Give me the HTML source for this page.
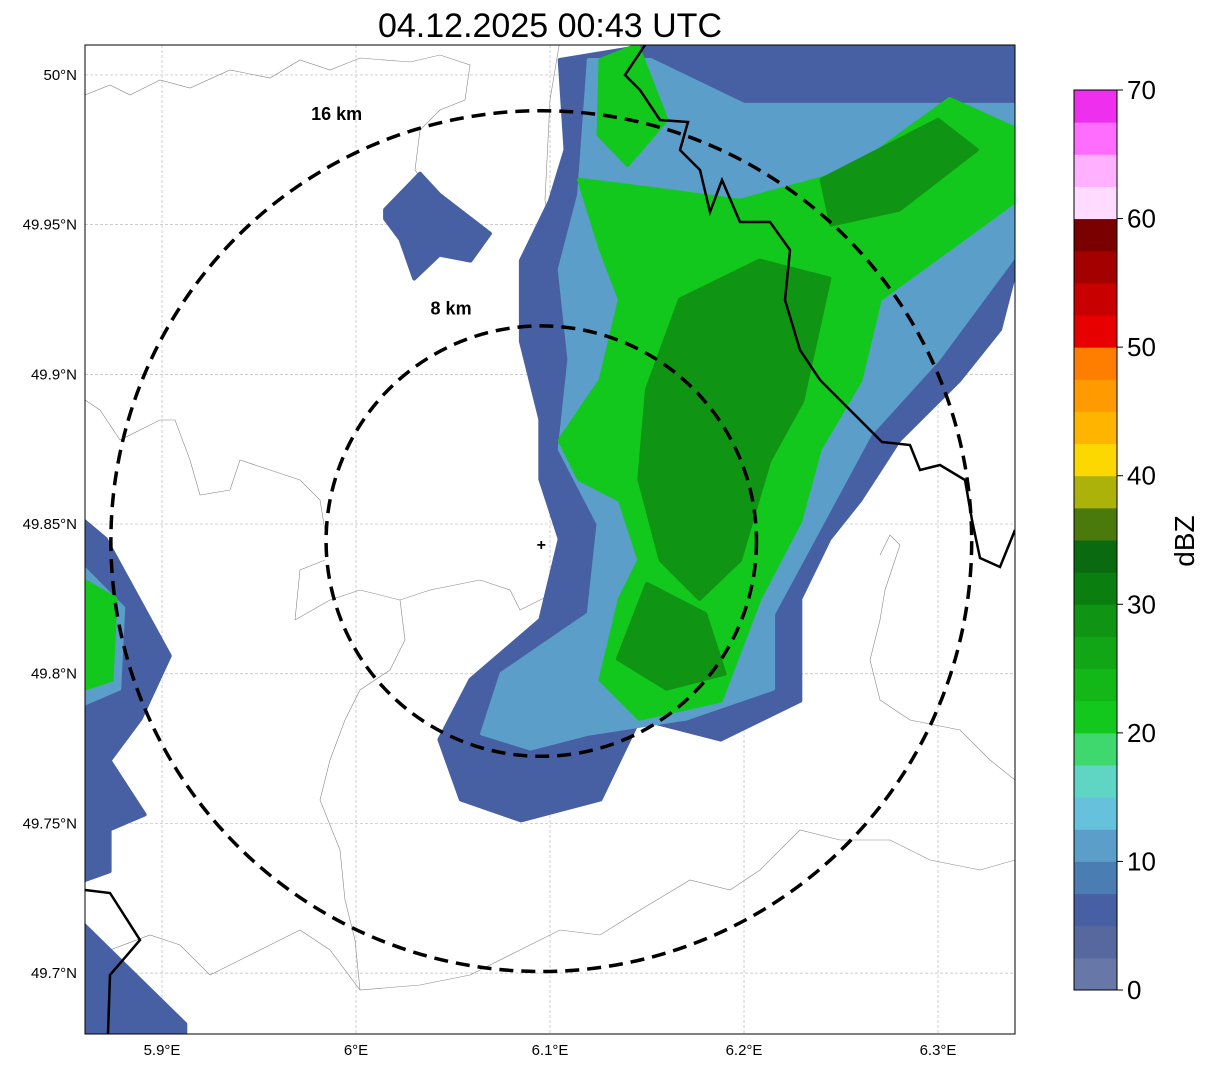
<!DOCTYPE html>
<html><head><meta charset="utf-8"><style>
body{margin:0;background:#fff;font-family:"Liberation Sans","DejaVu Sans",sans-serif}
svg{display:block}
</style></head><body>
<svg id="chart" width="1207" height="1069" viewBox="0 0 1207 1069" xmlns="http://www.w3.org/2000/svg">
<text x="550" y="37" font-size="34" text-anchor="middle" font-family="Liberation Sans, sans-serif">04.12.2025 00:43 UTC</text>
<defs><clipPath id="mapclip"><rect x="85" y="45" width="930" height="989"/></clipPath></defs>
<g id="map" clip-path="url(#mapclip)"></g>
<rect x="85" y="45" width="930" height="989" fill="none" stroke="#000" stroke-width="1"/>
<g id="axes"></g>
<g id="cbar"></g>
</svg>
<script>
const NS="http://www.w3.org/2000/svg";
const lonTicks=[5.9,6.0,6.1,6.2,6.3];
const lonLabels=["5.9°E","6°E","6.1°E","6.2°E","6.3°E"];
const latTicks=[50.0,49.95,49.9,49.85,49.8,49.75,49.7];
const latLabels=["50°N","49.95°N","49.9°N","49.85°N","49.8°N","49.75°N","49.7°N"];
const cbarColors=["#6677a8","#56689e","#4660a3","#4a7db2","#5a9ec9","#66c2dc","#5fd6c4","#3ed86f","#12c81d","#12b818","#10a615","#0f9513","#0a7f10","#0a6a10","#4a7a0b","#adb20a","#fcd700","#ffb400","#ff9a00","#ff7e00","#e60000","#c80000","#a40000","#7a0000","#ffdcff","#ffb0ff","#ff6dff","#ee30ee"];
const cbarTicks=[0,10,20,30,40,50,60,70];
const radarLon=6.0955, radarLat=49.8443;
const ringKm=[8,16];
const ringLabelLat=[49.920,49.985];
const ringLabelLon=[6.049,5.990];
// echo regions: [dBZ, polygon of [lon,lat]]
const echoDbz=[5,5,5,5,11,11,22,22,22,28,28,28];
const echoPolys=[
[[6.105,50.005],[6.152,50.010],[6.340,50.010],[6.340,49.935],[6.332,49.915],[6.311,49.898],[6.280,49.878],[6.260,49.858],[6.244,49.845],[6.229,49.825],[6.229,49.791],[6.188,49.778],[6.146,49.785],[6.126,49.758],[6.085,49.751],[6.054,49.758],[6.043,49.778],[6.059,49.798],[6.095,49.818],[6.105,49.845],[6.095,49.865],[6.095,49.885],[6.085,49.911],[6.085,49.938],[6.100,49.958],[6.108,49.975]],
[[6.015,49.955],[6.033,49.967],[6.043,49.960],[6.069,49.947],[6.059,49.938],[6.043,49.940],[6.030,49.932],[6.023,49.945],[6.015,49.952]],
[[5.860,49.851],[5.871,49.845],[5.904,49.806],[5.889,49.785],[5.873,49.771],[5.891,49.753],[5.873,49.748],[5.873,49.734],[5.860,49.731]],
[[5.860,49.716],[5.912,49.683],[5.912,49.680],[5.860,49.680]],
[[6.120,50.005],[6.152,50.005],[6.200,49.990],[6.340,49.990],[6.340,49.940],[6.300,49.905],[6.265,49.880],[6.240,49.850],[6.215,49.820],[6.215,49.795],[6.170,49.785],[6.120,49.780],[6.090,49.775],[6.065,49.780],[6.075,49.800],[6.120,49.820],[6.125,49.850],[6.105,49.875],[6.110,49.905],[6.105,49.935],[6.115,49.960]],
[[5.860,49.835],[5.880,49.822],[5.878,49.795],[5.860,49.790]],
[[6.115,49.965],[6.152,49.962],[6.198,49.958],[6.255,49.968],[6.306,49.992],[6.340,49.982],[6.340,49.958],[6.306,49.942],[6.270,49.925],[6.260,49.898],[6.239,49.875],[6.229,49.851],[6.208,49.825],[6.188,49.791],[6.146,49.785],[6.126,49.798],[6.136,49.825],[6.146,49.838],[6.136,49.858],[6.115,49.865],[6.105,49.878],[6.126,49.898],[6.136,49.925],[6.126,49.942]],
[[6.126,50.005],[6.145,50.010],[6.160,49.985],[6.140,49.970],[6.125,49.980]],
[[5.860,49.831],[5.876,49.825],[5.874,49.798],[5.860,49.795]],
[[6.167,49.925],[6.208,49.938],[6.244,49.932],[6.230,49.891],[6.213,49.871],[6.198,49.838],[6.177,49.825],[6.157,49.838],[6.146,49.865],[6.150,49.895]],
[[6.150,49.830],[6.180,49.820],[6.190,49.800],[6.160,49.795],[6.135,49.805]],
[[6.240,49.965],[6.300,49.985],[6.320,49.975],[6.280,49.955],[6.245,49.950]]
];
const X=lon=>85+(lon-5.8603)*1940;
const Y=lat=>45+(50.0100-lat)*2994;
function colorFor(d){return cbarColors[Math.max(0,Math.min(27,Math.floor(d/2.5)))];}
function mk(tag,attrs,parent){const e=document.createElementNS(NS,tag);for(const k in attrs)e.setAttribute(k,attrs[k]);parent.appendChild(e);return e;}
const map=document.getElementById('map');
const axes=document.getElementById('axes');
const cbar=document.getElementById('cbar');
lonTicks.forEach((t,i)=>{
  const l=mk('line',{x1:X(t),x2:X(t),y1:45,y2:1034,stroke:'#bbb','stroke-width':0.7,'stroke-dasharray':'3,2'},map);
  
  
  const tx=mk('text',{x:X(t),y:1055,'font-size':15,'text-anchor':'middle'},axes);
  tx.textContent=lonLabels[i];
  
  
});
latTicks.forEach((t,i)=>{
  const l=mk('line',{x1:85,x2:1015,y1:Y(t),y2:Y(t),stroke:'#bbb','stroke-width':0.7,'stroke-dasharray':'3,2'},map);
  
  
  const tx=mk('text',{x:77,y:Y(t)+5,'font-size':15,'text-anchor':'end'},axes);
  tx.textContent=latLabels[i];
  
  
});
const grayPaths=["M85,95 L110,85 L130,95 L160,80 L190,88 L230,70 L270,78 L300,60 L330,70 L360,58 L410,62 L440,55 L470,65 L465,100 L440,110 L420,130 L415,170 L430,190",
"M85,400 L100,410 L120,440 L160,420 L175,420 L190,460 L200,495 L230,490 L240,460 L270,470 L300,480 L320,500 L325,530",
"M325,560 L300,570 L295,620 L330,600 L360,590 L400,600 L430,590 L480,580 L510,590 L520,610 L540,600 L560,590 L600,590 L610,620",
"M400,600 L405,640 L390,670 L360,690 L345,720 L330,760 L320,800 L340,850 L345,900 L355,940 L360,990",
"M85,960 L110,950 L150,935 L180,945 L210,975 L240,960 L270,945 L300,930 L330,950 L360,990 L420,985 L470,975 L520,950 L560,930 L600,935 L640,910 L690,880 L730,890 L760,870 L800,830 L840,840 L890,840 L930,860 L980,870 L1015,860",
"M880,555 L890,535 L900,545 L885,590 L880,620 L870,660 L880,700 L910,720 L960,730 L990,760 L1015,780",
"M560,40 L550,100 L545,200 L555,260 L590,270 L640,260",
"M720,600 L740,640 L760,600 L770,560 L790,540"];
grayPaths.forEach(d=>{
  const p=mk('path',{d:d,fill:'none',stroke:'#888','stroke-width':0.6},map);
  
  
});
echoPolys.forEach((poly,i)=>{
  const c=colorFor(echoDbz[i]);
  const p=mk('polygon',{points:poly.map(q=>X(q[0]).toFixed(1)+','+Y(q[1]).toFixed(1)).join(' '),fill:c,stroke:c,'stroke-width':4,'stroke-linejoin':'round'},map);
  
  
});
const borders=["M645,45 L625,75 L640,90 L660,120 L688,122 L680,150 L700,170 L710,212 L722,180 L740,222 L770,222 L790,250 L785,300 L800,350 L820,380 L860,420 L882,442 L910,445 L920,470 L940,465 L965,480 L972,520 L980,558 L1000,567 L1015,530",
"M85,890 L110,893 L140,940 L110,975 L108,1034"];
borders.forEach(d=>{
  const p=mk('path',{d:d,fill:'none',stroke:'#000','stroke-width':2.5},map);
  
  
});
ringKm.forEach((k,i)=>{
  const r=k*26.9;
  const c=mk('circle',{cx:X(radarLon),cy:Y(radarLat),r:r,fill:'none',stroke:'#000','stroke-width':3.5,'stroke-dasharray':'14,8'},map);
  
  
  const t=mk('text',{x:X(ringLabelLon[i]),y:Y(ringLabelLat[i]),'font-size':18,'font-weight':'bold','text-anchor':'middle'},axes);
  t.textContent=k+' km';
  
  
});
const mkr=mk('text',{x:X(radarLon),y:Y(radarLat)+9,'font-size':16,'font-weight':'bold','text-anchor':'middle'},map);
mkr.textContent='+';


const cb0=990, cbH=900, segH=cbH/cbarColors.length;
cbarColors.forEach((c,i)=>{
  const r=mk('rect',{x:1074,y:cb0-(i+1)*segH,width:43,height:segH+0.5,fill:c},cbar);
  
  
});
mk('rect',{x:1074,y:90,width:43,height:900,fill:'none',stroke:'#000','stroke-width':1},cbar);
cbarTicks.forEach(v=>{
  const y=cb0-v/70*cbH;
  mk('line',{x1:1117,x2:1123,y1:y,y2:y,stroke:'#000'},cbar);
  const t=mk('text',{x:1127,y:y+9,'font-size':26},cbar);
  t.textContent=v;
  
  
});
const lab=mk('text',{x:1194,y:541,'font-size':28,'text-anchor':'middle',transform:'rotate(-90 1194 541)'},cbar);
lab.textContent='dBZ';


</script>
</body></html>
